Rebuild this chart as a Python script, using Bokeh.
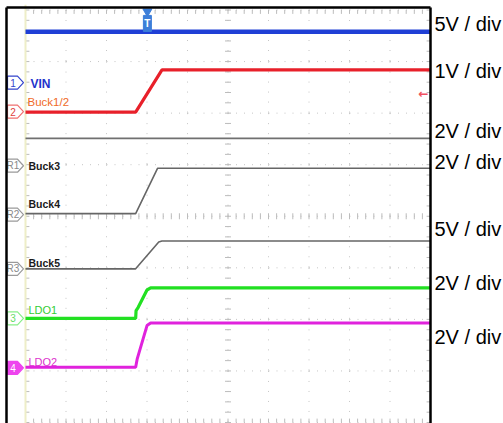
import numpy as np
from bokeh.plotting import figure
from bokeh.models import Range1d, ColumnDataSource
from bokeh.core.properties import value
from bokeh.embed import file_html
from bokeh.resources import INLINE

# ---------------- data (screen divisions: x 0..10 time, y 0..8 vertical) ----------------
vin_x = [0, 10]
vin_y = [7.58, 7.58]

buck12_x = [0, 2.72, 3.37, 10]
buck12_y = [6.02, 6.02, 6.84, 6.84]

ref1_x = [0, 10]
ref1_y = [5.51, 5.51]

ref2_x = [0, 2.72, 3.26, 10]
ref2_y = [4.05, 4.05, 4.93, 4.93]

ref3_x = [0, 2.72, 3.29, 3.37, 10]
ref3_y = [2.98, 2.98, 3.50, 3.52, 3.52]

ldo1_x = [0, 2.72, 2.73, 2.78, 3.00, 3.09, 10]
ldo1_y = [2.02, 2.02, 2.17, 2.23, 2.57, 2.61, 2.61]

ldo2_x = [0, 2.72, 2.76, 3.00, 3.09, 10]
ldo2_y = [1.07, 1.07, 1.24, 1.88, 1.93, 1.93]

# channel markers (reference levels)
marker_text = ["1", "2", "R1", "R2", "R3", "3", "4"]
marker_level = [6.59, 6.03, 4.98, 4.03, 2.98, 2.02, 1.06]

# trace names
name_text = ["VIN", "Buck1/2", "Buck3", "Buck4", "Buck5", "LDO1", "LDO2"]
name_y = [6.57, 6.21, 4.98, 4.23, 3.10, 2.19, 1.18]

# volts per division labels on the right
scale_text = ["5V / div", "1V / div", "2V / div", "2V / div", "5V / div", "2V / div", "2V / div"]
scale_y = [7.72, 6.81, 5.65, 5.06, 3.76, 2.70, 1.65]

trigger_x = 3.01
level_arrow_y = 6.38

FONT = value("Liberation Sans")

# ---------------- figure ----------------
PXX = 40.5
PXY = 51.5625
p = figure(width=503, height=423, output_backend="svg", toolbar_location=None,
           x_range=Range1d(-25 / PXX, 478 / PXX), y_range=Range1d(-1 / PXY, 422 / PXY),
           x_axis_location=None, y_axis_location=None, min_border=0,
           outline_line_color=None, title=None)
p.background_fill_color = "white"
p.border_fill_color = "white"
p.xgrid.visible = False
p.ygrid.visible = False

# dotted graticule (one dashed segment per division so the dots restart at each line)
gcol = "#c6c6c6"
hx0, hy0, hx1 = [], [], []
for r in range(9):
    for c in range(10):
        hx0.append(c); hx1.append(c + 1); hy0.append(r)
p.segment(x0=hx0, y0=hy0, x1=hx1, y1=hy0, line_color=gcol, line_width=1, line_dash="1 7")
vx0, vy0, vy1 = [], [], []
for c in range(11):
    for r in range(8):
        vx0.append(c); vy0.append(r + 1); vy1.append(r)
p.segment(x0=vx0, y0=vy0, x1=vx0, y1=vy1, line_color=gcol, line_width=1, line_dash="1 9")

# tick marks on centre cross and borders
tcol = "#bcbcbc"
tx = np.arange(0, 10.001, 0.2)
ty = np.arange(0, 8.001, 0.2)
hx = 3 / PXX
hy = 3 / PXY
p.segment(x0=tx, y0=4 - hy, x1=tx, y1=4 + hy, line_color=tcol, line_width=1)
p.segment(x0=5 - hx, y0=ty, x1=5 + hx, y1=ty, line_color=tcol, line_width=1)
p.segment(x0=tx, y0=8, x1=tx, y1=8 - 1.3 * hy, line_color=tcol, line_width=1)
p.segment(x0=tx, y0=0, x1=tx, y1=1.3 * hy, line_color=tcol, line_width=1)
p.segment(x0=10, y0=ty, x1=10 - 1.3 * hx, y1=ty, line_color=tcol, line_width=1)
p.segment(x0=0, y0=ty, x1=1.3 * hx, y1=ty, line_color=tcol, line_width=1)
p.segment(x0=[0], y0=[8.1], x1=[0], y1=[-0.1], line_color="#eeeec8", line_width=2)

# traces
p.line(ref1_x, ref1_y, line_color="#707070", line_width=1.8)
p.line(ref2_x, ref2_y, line_color="#666666", line_width=1.6)
p.line(ref3_x, ref3_y, line_color="#666666", line_width=1.6)
p.line(vin_x, vin_y, line_color="#1f3fd6", line_width=4.5)
p.line(buck12_x, buck12_y, line_color="#e8202a", line_width=3.2)
p.line(ldo1_x, ldo1_y, line_color="#22e022", line_width=3.2)
p.line(ldo2_x, ldo2_y, line_color="#e022dd", line_width=3)

# trigger marker
p.scatter([trigger_x], [7.97], marker="inverted_triangle", size=9,
          fill_color="#3d7fd9", line_color="#3d7fd9")
p.rect([trigger_x], [7.74], width=8 / PXX, height=16 / PXY,
       fill_color="#3d7fd9", line_color="#3d7fd9")
p.text([trigger_x], [7.74], text=["T"], text_color="white", text_font=FONT,
       text_font_style="bold", text_font_size="10px", text_align="center", text_baseline="middle")

# level arrow
p.text([9.83], [level_arrow_y], text=["\u2190"], text_color="#f05060",
       text_font=value("DejaVu Sans"), text_font_size="12px", text_font_style="bold",
       text_align="center", text_baseline="middle")

# channel markers
m_line = ["#3344cc", "#f07070", "#9a9a9a", "#9a9a9a", "#9a9a9a", "#88ee88", "#ee44ee"]
m_fill = ["white", "white", "white", "white", "white", "white", "#ee44ee"]
m_txt = ["#3344cc", "#e04040", "#8a8a8a", "#8a8a8a", "#8a8a8a", "#66dd66", "white"]
xs, ys = [], []
for lv in marker_level:
    xs.append([-18 / PXX, -8 / PXX, -2 / PXX, -8 / PXX, -18 / PXX])
    ys.append([lv + 6.5 / PXY, lv + 6.5 / PXY, lv, lv - 6.5 / PXY, lv - 6.5 / PXY])
p.patches(xs, ys, fill_color=m_fill, line_color=m_line, line_width=1.2)
p.text(x=[-12.5 / PXX] * 7, y=marker_level, text=marker_text, text_color=m_txt,
       text_font=FONT, text_font_size="10px",
       text_align="center", text_baseline="middle")

# trace names
n_col = ["#2233cc", "#f06a28", "#1a1a1a", "#1a1a1a", "#1a1a1a", "#33cc33", "#dd33cc"]
n_style = ["bold", "normal", "bold", "bold", "bold", "normal", "normal"]
n_x = [5 / PXX, 2 / PXX, 3 / PXX, 3 / PXX, 3 / PXX, 3 / PXX, 3 / PXX]
n_size = ["12px", "11.5px", "10.5px", "10.5px", "10.5px", "11px", "11px"]
src = ColumnDataSource(dict(x=n_x, y=name_y, t=name_text, c=n_col, s=n_style, z=n_size))
p.text(x="x", y="y", text="t", text_color="c", text_font_style="s", text_font_size="z",
       text_font=FONT, text_align="left", text_baseline="middle", source=src)

# outer black frame
p.segment(x0=[-19 / PXX, -19 / PXX, 10], y0=[415 / PXY, 415 / PXY, 415 / PXY],
          x1=[10, -19 / PXX, 10], y1=[415 / PXY, -0.2, -0.2],
          line_color="black", line_width=2.5)

# volts/div labels
p.text(x=[409 / PXX] * 7, y=scale_y, text=scale_text, text_color="black",
       text_font=FONT, text_font_size="20px",
       text_align="left", text_baseline="middle")

open("out.html", "w").write(file_html(p, INLINE))
